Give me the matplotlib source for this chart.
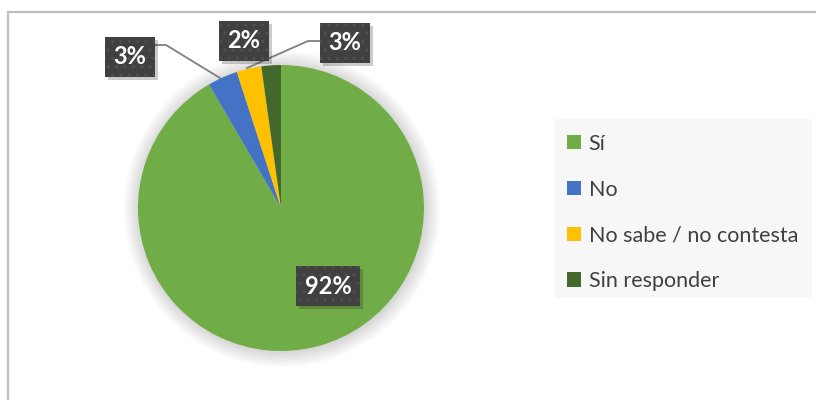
import matplotlib.pyplot as plt
import matplotlib.patheffects as pe
from matplotlib.patches import Circle, Rectangle

# data (share of answers)
categories = ['Sí', 'No', 'No sabe / no contesta', 'Sin responder']
values = [91.6, 3.4, 2.8, 2.2]
colors = ['#70ad47', '#4472c4', '#ffc000', '#43682b']
pct_labels = ['92%', '3%', '3%', '2%']

plt.rcParams['font.family'] = ['Lato', 'DejaVu Sans']
plt.rcParams['hatch.linewidth'] = 1.2

W, H = 816, 400
fig = plt.figure(figsize=(W / 100, H / 100), dpi=100)
ax = fig.add_axes([0, 0, 1, 1])

def py(y):
    # pixel row (from top) -> data y
    return H - y

cx, cy, r = 281, py(208), 143

# soft shadow round the pie
for i in range(8):
    ax.add_patch(Circle((cx + 1, cy - 1), r + 1 + 2 * i, color='#000000',
                        alpha=0.018, lw=0, zorder=0))

wedges, _ = ax.pie(values, colors=colors, startangle=90, counterclock=False,
                   center=(cx, cy), radius=r, frame=True,
                   wedgeprops=dict(linewidth=0))
for w in wedges:
    w.set_zorder(2)

ax.set_xlim(0, W)
ax.set_ylim(0, H)
ax.set_aspect('auto')
ax.axis('off')

# chart border (left and top only visible)
ax.plot([7.5, 7.5, W + 5], [py(H + 5), py(11.5), py(11.5)], color='#bfbfbf',
        lw=1.6, solid_joinstyle='miter', zorder=1)

# leader lines
ax.plot([155, 166, 220], [py(45), py(45), py(78)], color='#7f7f7f', lw=1.3, zorder=3)
ax.plot([320, 308, 247], [py(41), py(41), py(68)], color='#7f7f7f', lw=1.3, zorder=3)

# data labels: label index -> (x, y) in pixels
label_pos = {0: (328, 286), 1: (130, 57), 2: (345, 43), 3: (244, 41)}
for i, (x, y) in label_pos.items():
    t = ax.text(x, py(y), pct_labels[i], color='white', fontsize=17,
                fontweight='bold', ha='center', va='center', zorder=5,
                bbox=dict(boxstyle='square,pad=0.36', facecolor='#404040',
                          edgecolor='#4e4e4e', hatch='..', lw=0))
    t.get_bbox_patch().set_path_effects(
        [pe.SimplePatchShadow(offset=(2, -2), alpha=0.22, hatch=None),
         pe.Normal()])

# legend
ax.add_patch(Rectangle((555, py(298)), 257, 179, facecolor='#f7f7f7',
                       edgecolor='none', zorder=1))
leg = fig.legend(wedges, categories, loc='upper left',
                 bbox_to_anchor=(556 / W, 1 - 123 / H), frameon=False,
                 fontsize=15.5, handlelength=0.66, handleheight=0.66,
                 handletextpad=0.35, labelspacing=1.2, borderpad=0)
for txt in leg.get_texts():
    txt.set_color('#404040')

fig.savefig('out.png', dpi=100)
